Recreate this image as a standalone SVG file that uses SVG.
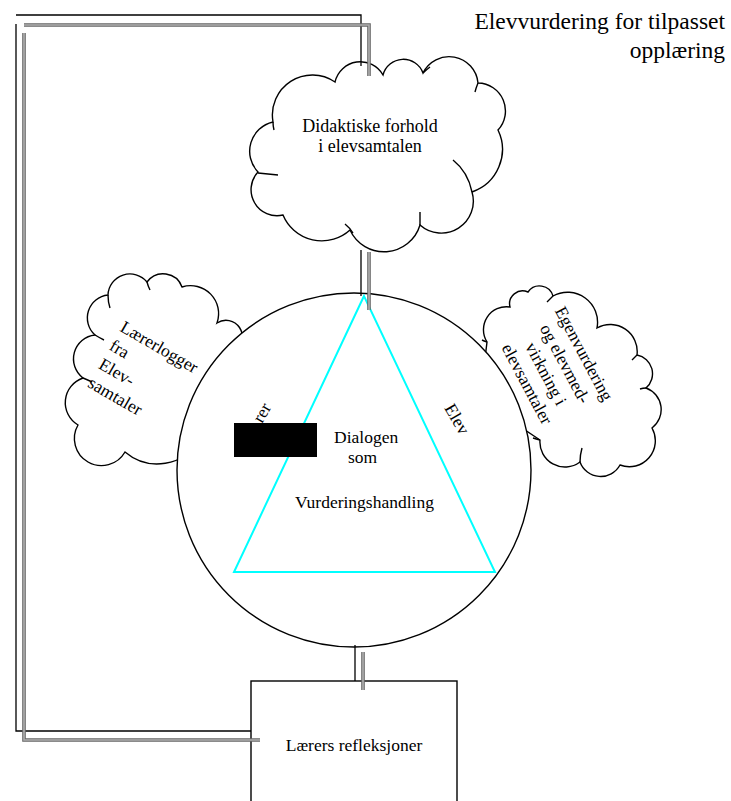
<svg xmlns="http://www.w3.org/2000/svg" width="731" height="801" viewBox="0 0 731 801">
<style>
.cloud{fill:#fff;stroke:#000;stroke-width:1.4}
.tick{fill:none;stroke:#000;stroke-width:1.4}
.ln{fill:none;stroke:#000;stroke-width:1.3}
.g1{fill:none;stroke:#666;stroke-width:3.6}
.g2{fill:none;stroke:#b0b0b0;stroke-width:1.6}
.t{font-family:"Liberation Serif","Times New Roman",serif;font-size:17.5px;fill:#000}
</style>
<rect x="0" y="0" width="731" height="801" fill="#fff"/>
<g id="title">
<text class="t" x="725" y="29" text-anchor="end" style="font-size:23.5px">Elevvurdering for tilpasset</text>
<text class="t" x="725" y="58" text-anchor="end" style="font-size:23.5px">opplæring</text>
</g>
<g id="cloud-top">
<path class="cloud" d="M273,122 A40,40 0 0 1 335,82 A26,26 0 0 1 383,75 A21,21 0 0 1 423,73 A29,29 0 0 1 478,83 A28,28 0 0 1 498,130 A45,45 0 0 1 472,192 A32,32 0 0 1 420,225 A37.5,37.5 0 0 1 350,230 A42,42 0 0 1 283,215 A26,26 0 0 1 258,172 A30,30 0 0 1 273,122 Z"/>
<path class="tick" d="M453,160 Q468,172 472,192 M420,212 L420,225 M345,224 Q350,228 353,233 M423,73 Q426,70 430,67 M258,173 Q268,174 278,175 M273,122 Q273,126 274,130 M478,83 Q476,88 475,92"/>
<text class="t" x="370" y="132" text-anchor="middle" style="font-size:18px">Didaktiske forhold</text>
<text class="t" x="370" y="152" text-anchor="middle" style="font-size:18px">i elevsamtalen</text>
</g>
<g id="cloud-left">
<path class="cloud" d="M200,440 A50,50 0 0 1 125,452 A26,26 0 0 1 78,425 A26,26 0 0 1 83,378 A24,24 0 0 1 95,335 A23,23 0 0 1 108,295 A22,22 0 0 1 147,282 A20,20 0 0 1 182,287 A28,28 0 0 1 217,323 A14,14 0 0 1 235,350 Z"/>
<path class="tick" d="M108,295 Q108,302 110,308 M95,335 Q100,338 104,340 M83,378 Q88,380 92,382 M147,282 Q148,286 150,290"/>
</g>
<g id="cloud-right">
<path class="cloud" d="M487,342 A23,23 0 0 1 510,307 A13,13 0 0 1 528,292 A14,14 0 0 1 553,296 A30,30 0 0 1 597,328 A27,27 0 0 1 637,355 A19,19 0 0 1 646,388 A23,23 0 0 1 652,428 A26,26 0 0 1 620,465 A22,22 0 0 1 580,462 A25,25 0 0 1 540,440 L480,400 Z"/>
<path class="tick" d="M487,342 Q484,341 482,340 M553,296 Q550,299 547,302 M637,355 Q634,358 632,360 M646,388 Q643,388 640,389 M580,462 Q580,455 582,448 M540,440 Q536,439 533,438"/>
</g>
<g id="circle">
<circle cx="354" cy="470" r="177" fill="#fff" stroke="#000" stroke-width="1.4"/>
<polygon points="364,296 234,572 495,572" fill="none" stroke="#00ffff" stroke-width="2"/>
<text class="t" x="334" y="443">Dialogen</text>
<text class="t" x="348" y="463">som</text>
<text class="t" x="295" y="508">Vurderingshandling</text>
<text class="t" transform="translate(262,424) rotate(-60)">rer</text>
<text class="t" transform="translate(444,408) rotate(60)">Elev</text>
<rect x="234" y="423" width="83" height="34" fill="#000"/>
</g>
<g id="cloud-left-text">
<g transform="translate(119,330.5) rotate(30)">
<text class="t" x="0" y="0">Lærerlogger</text>
<text class="t" x="0" y="21.5">fra</text>
<text class="t" x="0" y="43">Elev-</text>
<text class="t" x="0" y="64.5">samtaler</text>
</g>
</g>
<g id="cloud-right-text">
<g transform="translate(555,369) rotate(62)">
<text class="t" x="0" y="-27" text-anchor="middle">Egenvurdering</text>
<text class="t" x="0" y="-5.5" text-anchor="middle">og elevmed-</text>
<text class="t" x="0" y="16" text-anchor="middle">virkning i</text>
<text class="t" x="0" y="37.5" text-anchor="middle">elevsamtaler</text>
</g>
</g>
<g id="box">
<rect x="251" y="681" width="206" height="140" fill="#fff" stroke="#000" stroke-width="1.4"/>
<text class="t" x="354" y="751" text-anchor="middle">Lærers refleksjoner</text>
</g>
<g id="connectors">
<path class="ln" d="M16,15 H361 V66"/>
<path class="ln" d="M16,24 V731 H251"/>
<path class="ln" d="M361,250 V296"/>
<path class="ln" d="M355,645 V681"/>
<path class="g1" d="M24,25 H369 V76"/>
<path class="g2" d="M24,25 H369 V76"/>
<path class="g1" d="M24,33 V740 H260"/>
<path class="g2" d="M24,33 V740 H260"/>
<path class="g1" d="M369,252 V310"/>
<path class="g2" d="M369,252 V310"/>
<path class="g1" d="M363,652 V690"/>
<path class="g2" d="M363,652 V690"/>
</g>
</svg>
